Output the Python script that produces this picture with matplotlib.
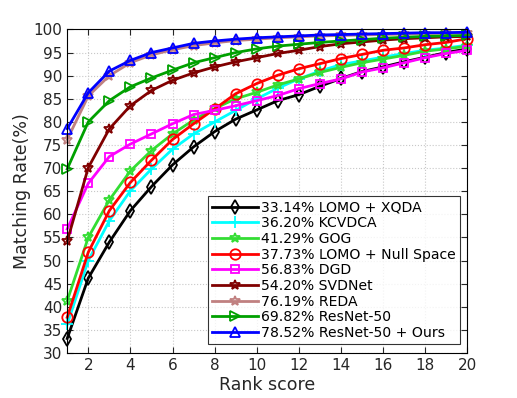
import numpy as np
import matplotlib
matplotlib.use("Agg")
import matplotlib.pyplot as plt

# === data ===
rank = list(range(1, 21))

lomo_xqda = [33.14, 46.2, 54.0, 60.8, 66.0, 70.7, 74.6, 77.9, 80.6, 82.6,
             84.6, 85.9, 87.7, 89.4, 90.9, 91.9, 93.0, 94.0, 95.0, 95.8]
kcvdca = [36.20, 50.0, 58.6, 65.1, 69.8, 74.1, 77.4, 80.0, 82.5, 85.0,
          87.3, 89.3, 91.0, 92.4, 93.2, 94.0, 94.8, 95.5, 96.0, 96.6]
gog = [41.29, 55.0, 63.1, 69.4, 73.8, 77.4, 80.4, 82.9, 85.0, 86.4,
       88.0, 89.3, 90.7, 91.8, 92.8, 93.6, 94.4, 95.3, 95.8, 96.4]
lomo_null = [37.73, 51.8, 60.8, 66.9, 71.7, 76.2, 79.6, 82.8, 86.1, 88.3,
             90.1, 91.5, 92.6, 93.7, 94.6, 95.5, 96.0, 96.7, 97.2, 98.0]
dgd = [56.83, 66.7, 72.5, 75.2, 77.4, 79.6, 81.6, 82.5, 83.5, 84.6,
       85.7, 87.2, 88.3, 89.3, 90.8, 91.7, 92.8, 93.9, 94.8, 95.5]
svdnet = [54.20, 70.1, 78.5, 83.5, 86.8, 89.0, 90.6, 91.9, 93.0, 93.9,
          94.8, 95.5, 96.3, 96.9, 97.3, 97.7, 98.0, 98.2, 98.4, 98.5]
reda = [76.19, 85.6, 90.0, 92.8, 94.5, 95.6, 96.5, 97.1, 97.6, 97.9,
        98.2, 98.4, 98.6, 98.7, 98.8, 98.9, 99.0, 99.1, 99.2, 99.2]
resnet = [69.82, 80.0, 84.6, 87.6, 89.5, 91.2, 92.8, 93.9, 95.0, 95.8,
          96.4, 96.8, 97.2, 97.5, 97.8, 98.1, 98.3, 98.5, 98.6, 98.7]
ours = [78.52, 86.3, 91.0, 93.3, 95.0, 96.0, 97.0, 97.5, 97.9, 98.2,
        98.4, 98.6, 98.8, 98.9, 99.0, 99.1, 99.2, 99.3, 99.3, 99.4]

labels = ["33.14% LOMO + XQDA", "36.20% KCVDCA", "41.29% GOG",
          "37.73% LOMO + Null Space", "56.83% DGD", "54.20% SVDNet",
          "76.19% REDA", "69.82% ResNet-50", "78.52% ResNet-50 + Ours"]
series = [lomo_xqda, kcvdca, gog, lomo_null, dgd, svdnet, reda, resnet, ours]
colors = ["#000000", "#00ffff", "#33dd33", "#ff0000", "#ff00ff",
          "#800000", "#c08080", "#00a000", "#0000ff"]
markers = ["d", "+", "*", "o", "s", "*", "*", ">", "^"]
msizes = [7, 8, 7.5, 7.5, 6, 7.5, 7.5, 7, 7]

# === plot ===
plt.rcParams["font.family"] = "DejaVu Sans"
fig = plt.figure(figsize=(5.17, 3.98), dpi=100)
ax = fig.add_axes([0.130, 0.113, 0.774, 0.813])

for y, lab, c, m, ms in zip(series, labels, colors, markers, msizes):
    ax.plot(rank, y, color=c, marker=m, markersize=ms, markerfacecolor="none",
            markeredgecolor=c, markeredgewidth=1.3, linewidth=2, label=lab,
            clip_on=False)

ax.set_xlim(1, 20)
ax.set_ylim(30, 100)
ax.set_xticks(range(2, 21, 2))
ax.set_yticks(range(30, 101, 5))
ax.grid(True, linestyle=":", color="#c8c8c8", linewidth=0.8)
ax.tick_params(direction="in", top=True, right=True, labelsize=11,
               colors="#262626", length=4)
for s in ax.spines.values():
    s.set_linewidth(0.8)
ax.set_xlabel("Rank score", fontsize=12.5, color="#262626", labelpad=2)
ax.set_ylabel("Matching Rate(%)", fontsize=12.5, color="#262626", labelpad=2)

leg = ax.legend(loc="lower right", bbox_to_anchor=(0.981, 0.027), fontsize=10.1,
                frameon=True, fancybox=False, edgecolor="black",
                handlelength=3.3, handletextpad=0.2, labelspacing=0.12,
                borderpad=0.3, borderaxespad=0)
leg.get_frame().set_linewidth(0.8)
leg.set_zorder(5)

fig.savefig("out.png", dpi=100)
